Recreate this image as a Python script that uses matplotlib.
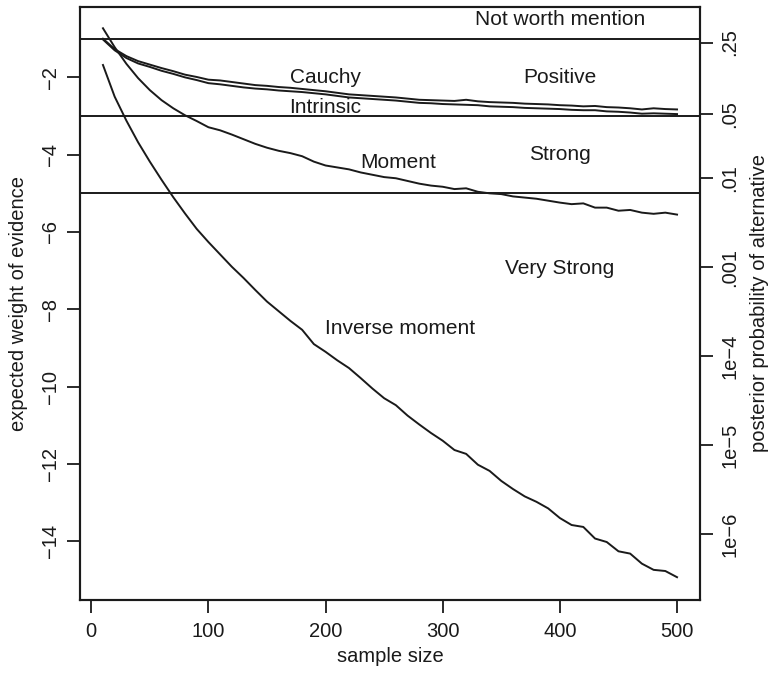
import numpy as np
import matplotlib
matplotlib.use("Agg")
import matplotlib.pyplot as plt

plt.rcParams['font.family'] = ['Liberation Sans', 'DejaVu Sans']

sample_size = list(range(10, 510, 10))

cauchy = [-1.00, -1.27, -1.45, -1.58, -1.67, -1.76, -1.84, -1.93, -1.99, -2.06,
          -2.08, -2.12, -2.16, -2.20, -2.22, -2.25, -2.27, -2.30, -2.33, -2.36,
          -2.40, -2.44, -2.46, -2.48, -2.50, -2.52, -2.55, -2.58, -2.59, -2.60,
          -2.61, -2.58, -2.62, -2.64, -2.65, -2.66, -2.68, -2.69, -2.70, -2.72,
          -2.73, -2.75, -2.74, -2.77, -2.78, -2.80, -2.83, -2.80, -2.82, -2.83]

intrinsic = [-1.02, -1.30, -1.50, -1.64, -1.73, -1.83, -1.91, -2.00, -2.07, -2.15,
             -2.18, -2.22, -2.26, -2.29, -2.31, -2.34, -2.36, -2.38, -2.41, -2.44,
             -2.48, -2.52, -2.54, -2.56, -2.58, -2.60, -2.63, -2.66, -2.67, -2.69,
             -2.70, -2.71, -2.72, -2.75, -2.76, -2.77, -2.79, -2.80, -2.81, -2.82,
             -2.84, -2.85, -2.85, -2.88, -2.89, -2.91, -2.94, -2.93, -2.94, -2.95]

moment = [-0.73, -1.22, -1.65, -2.02, -2.33, -2.59, -2.80, -2.98, -3.13, -3.29,
          -3.37, -3.48, -3.60, -3.72, -3.82, -3.90, -3.96, -4.04, -4.18, -4.28,
          -4.33, -4.38, -4.46, -4.52, -4.58, -4.61, -4.68, -4.75, -4.80, -4.83,
          -4.89, -4.87, -4.96, -5.00, -5.02, -5.08, -5.11, -5.14, -5.19, -5.24,
          -5.28, -5.26, -5.37, -5.37, -5.45, -5.43, -5.50, -5.53, -5.50, -5.55]

inverse_moment = [-1.68, -2.50, -3.12, -3.68, -4.18, -4.65, -5.10, -5.52, -5.92, -6.26,
                  -6.58, -6.90, -7.19, -7.50, -7.80, -8.05, -8.30, -8.53, -8.90, -9.10,
                  -9.32, -9.52, -9.78, -10.05, -10.30, -10.48, -10.75, -10.98, -11.20, -11.40,
                  -11.64, -11.74, -12.02, -12.18, -12.44, -12.65, -12.84, -12.98, -13.15, -13.40,
                  -13.58, -13.63, -13.93, -14.02, -14.26, -14.32, -14.58, -14.74, -14.77, -14.93]

thresholds = [-1, -3, -5]

curve_labels = ["Cauchy", "Intrinsic", "Moment", "Inverse moment"]
curve_label_x = [200, 200, 262, 264]
curve_label_y = [-2.0, -2.78, -4.2, -8.5]

region_labels = ["Not worth mention", "Positive", "Strong", "Very Strong"]
region_label_x = [400, 400, 400, 400]
region_label_y = [-0.5, -2.0, -4.0, -6.95]

x_ticks = [0, 100, 200, 300, 400, 500]
y_ticks = [-14, -12, -10, -8, -6, -4, -2]
prob_values = [0.25, 0.05, 0.01, 0.001, 1e-4, 1e-5, 1e-6]
prob_labels = [".25", ".05", ".01", ".001", "1e\u22124", "1e\u22125", "1e\u22126"]

col = "#1a1a1a"
fs = 14.5
fs_txt = 15

fig = plt.figure(figsize=(7.73, 6.75), dpi=100)
ax = fig.add_axes([80 / 773, 1 - 600 / 675, 620 / 773, 593 / 675])

for s in [cauchy, intrinsic, moment, inverse_moment]:
    ax.plot(sample_size, s, color=col, lw=1.4, solid_joinstyle='round')
for t in thresholds:
    ax.axhline(t, color=col, lw=1.4)

for lab, x, y in zip(curve_labels, curve_label_x, curve_label_y):
    ax.text(x, y, lab, ha='center', va='center', fontsize=fs_txt, color=col)
for lab, x, y in zip(region_labels, region_label_x, region_label_y):
    ax.text(x, y, lab, ha='center', va='center', fontsize=fs_txt, color=col)

ax.set_xlim(-9.6, 519.6)
ax.set_ylim(-15.52, -0.18)
ax.set_xticks(x_ticks)
ax.set_xticklabels([str(v) for v in x_ticks])
ax.set_yticks(y_ticks)
ax.set_yticklabels(["\u2212%d" % abs(v) for v in y_ticks])
ax.tick_params(axis='x', length=9.5, width=1.3, color=col, labelsize=fs,
               labelcolor=col, pad=6)
ax.tick_params(axis='y', length=9.5, width=1.3, color=col, labelsize=fs,
               labelcolor=col, pad=5)
for lab in ax.get_yticklabels():
    lab.set_rotation(90)
    lab.set_va('center')
ax.set_xlabel("sample size", fontsize=fs, color=col, labelpad=5)
ax.set_ylabel("expected weight of evidence", fontsize=fs, color=col, labelpad=9)
for sp in ax.spines.values():
    sp.set_linewidth(1.5)
    sp.set_color(col)

ax2 = ax.twinx()
ax2.set_ylim(ax.get_ylim())
pv = np.array(prob_values)
ax2.set_yticks(np.log(pv / (1 - pv)))
ax2.set_yticklabels(prob_labels)
ax2.tick_params(axis='y', length=9.5, width=1.3, color=col, labelsize=fs,
                labelcolor=col, pad=5)
for lab in ax2.get_yticklabels():
    lab.set_rotation(90)
    lab.set_va('center')
ax2.set_ylabel("posterior probability of alternative", fontsize=fs, color=col,
               rotation=90, labelpad=8)
for sp in ax2.spines.values():
    sp.set_linewidth(1.5)
    sp.set_color(col)

fig.savefig("out.png", dpi=100)
